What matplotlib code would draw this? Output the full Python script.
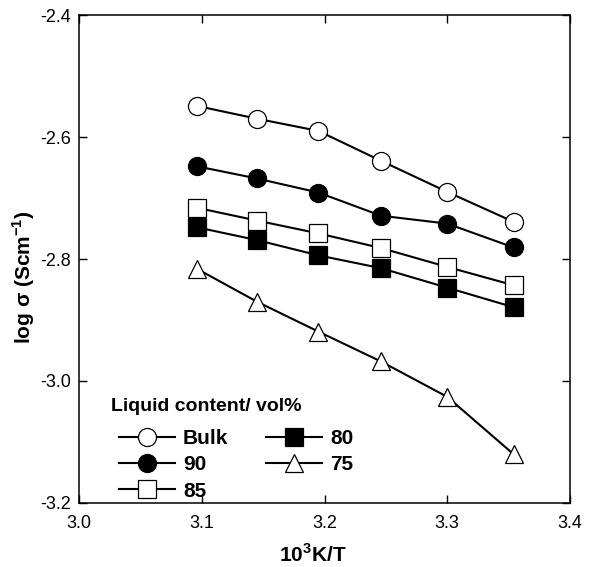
import numpy as np
import matplotlib
matplotlib.use('Agg')
import matplotlib.pyplot as plt

plt.rcParams['font.family'] = ['Liberation Sans', 'DejaVu Sans']
plt.rcParams['mathtext.fontset'] = 'custom'
plt.rcParams['mathtext.rm'] = 'Liberation Sans'
plt.rcParams['mathtext.bf'] = 'Liberation Sans:bold'

# Datos
x = [3.096, 3.145, 3.195, 3.246, 3.300, 3.354]

bulk = [-2.549, -2.570, -2.590, -2.639, -2.690, -2.739]
v90 = [-2.648, -2.668, -2.691, -2.729, -2.742, -2.781]
v85 = [-2.716, -2.737, -2.758, -2.782, -2.813, -2.843]
v80 = [-2.748, -2.769, -2.794, -2.815, -2.847, -2.879]
v75 = [-2.816, -2.870, -2.919, -2.968, -3.026, -3.120]

fig = plt.figure(figsize=(6, 5.67), dpi=100)
ax = fig.add_axes([0.1317, 0.1129, 0.8183, 0.8606])

estilo = dict(color='black', linewidth=1.5, markersize=13,
              markeredgecolor='black', markeredgewidth=0.9)

ax.plot(x, bulk, marker='o', markerfacecolor='white', label='Bulk', **estilo)
ax.plot(x, v90, marker='o', markerfacecolor='black', label='90', **estilo)
ax.plot(x, v85, marker='s', markerfacecolor='white', label='85', **estilo)
ax.plot(x, v80, marker='s', markerfacecolor='black', label='80', **estilo)
ax.plot(x, v75, marker='^', markerfacecolor='white', label='75', **estilo)

ax.set_xlim(3.0, 3.4)
ax.set_ylim(-3.2, -2.4)
ax.set_xticks([3.0, 3.1, 3.2, 3.3, 3.4])
ax.set_yticks([-3.2, -3.0, -2.8, -2.6, -2.4])
ax.set_xticklabels(['3.0', '3.1', '3.2', '3.3', '3.4'])
ax.set_yticklabels(['-3.2', '-3.0', '-2.8', '-2.6', '-2.4'])
ax.tick_params(direction='in', length=6, width=1, labelsize=13,
               top=True, right=True, pad=6)
ax.tick_params(axis='x', pad=9)
for s in ax.spines.values():
    s.set_linewidth(1.1)

ax.set_xlabel(r'10$^{\mathbf{3}}$K/T', fontsize=15, fontweight='bold')
ax.xaxis.set_label_coords(0.477, -0.082)
ax.set_ylabel(r'log σ (Scm$^{\mathbf{-1}}$)', fontsize=15, fontweight='bold')
ax.yaxis.set_label_coords(-0.086, 0.463)

# Titulo de la leyenda
ax.text(0.065, 0.197, 'Liquid content/ vol%', transform=ax.transAxes,
        fontsize=14, fontweight='bold', ha='left', va='center')

leg = ax.legend(ncol=2, loc='lower left', bbox_to_anchor=(0.055, -0.021),
                frameon=False, fontsize=15, borderpad=0.1,
                handlelength=2.7, handletextpad=0.4, columnspacing=1.8,
                labelspacing=0.35)
for t in leg.get_texts():
    t.set_fontweight('bold')

fig.savefig('out.png', dpi=100)
